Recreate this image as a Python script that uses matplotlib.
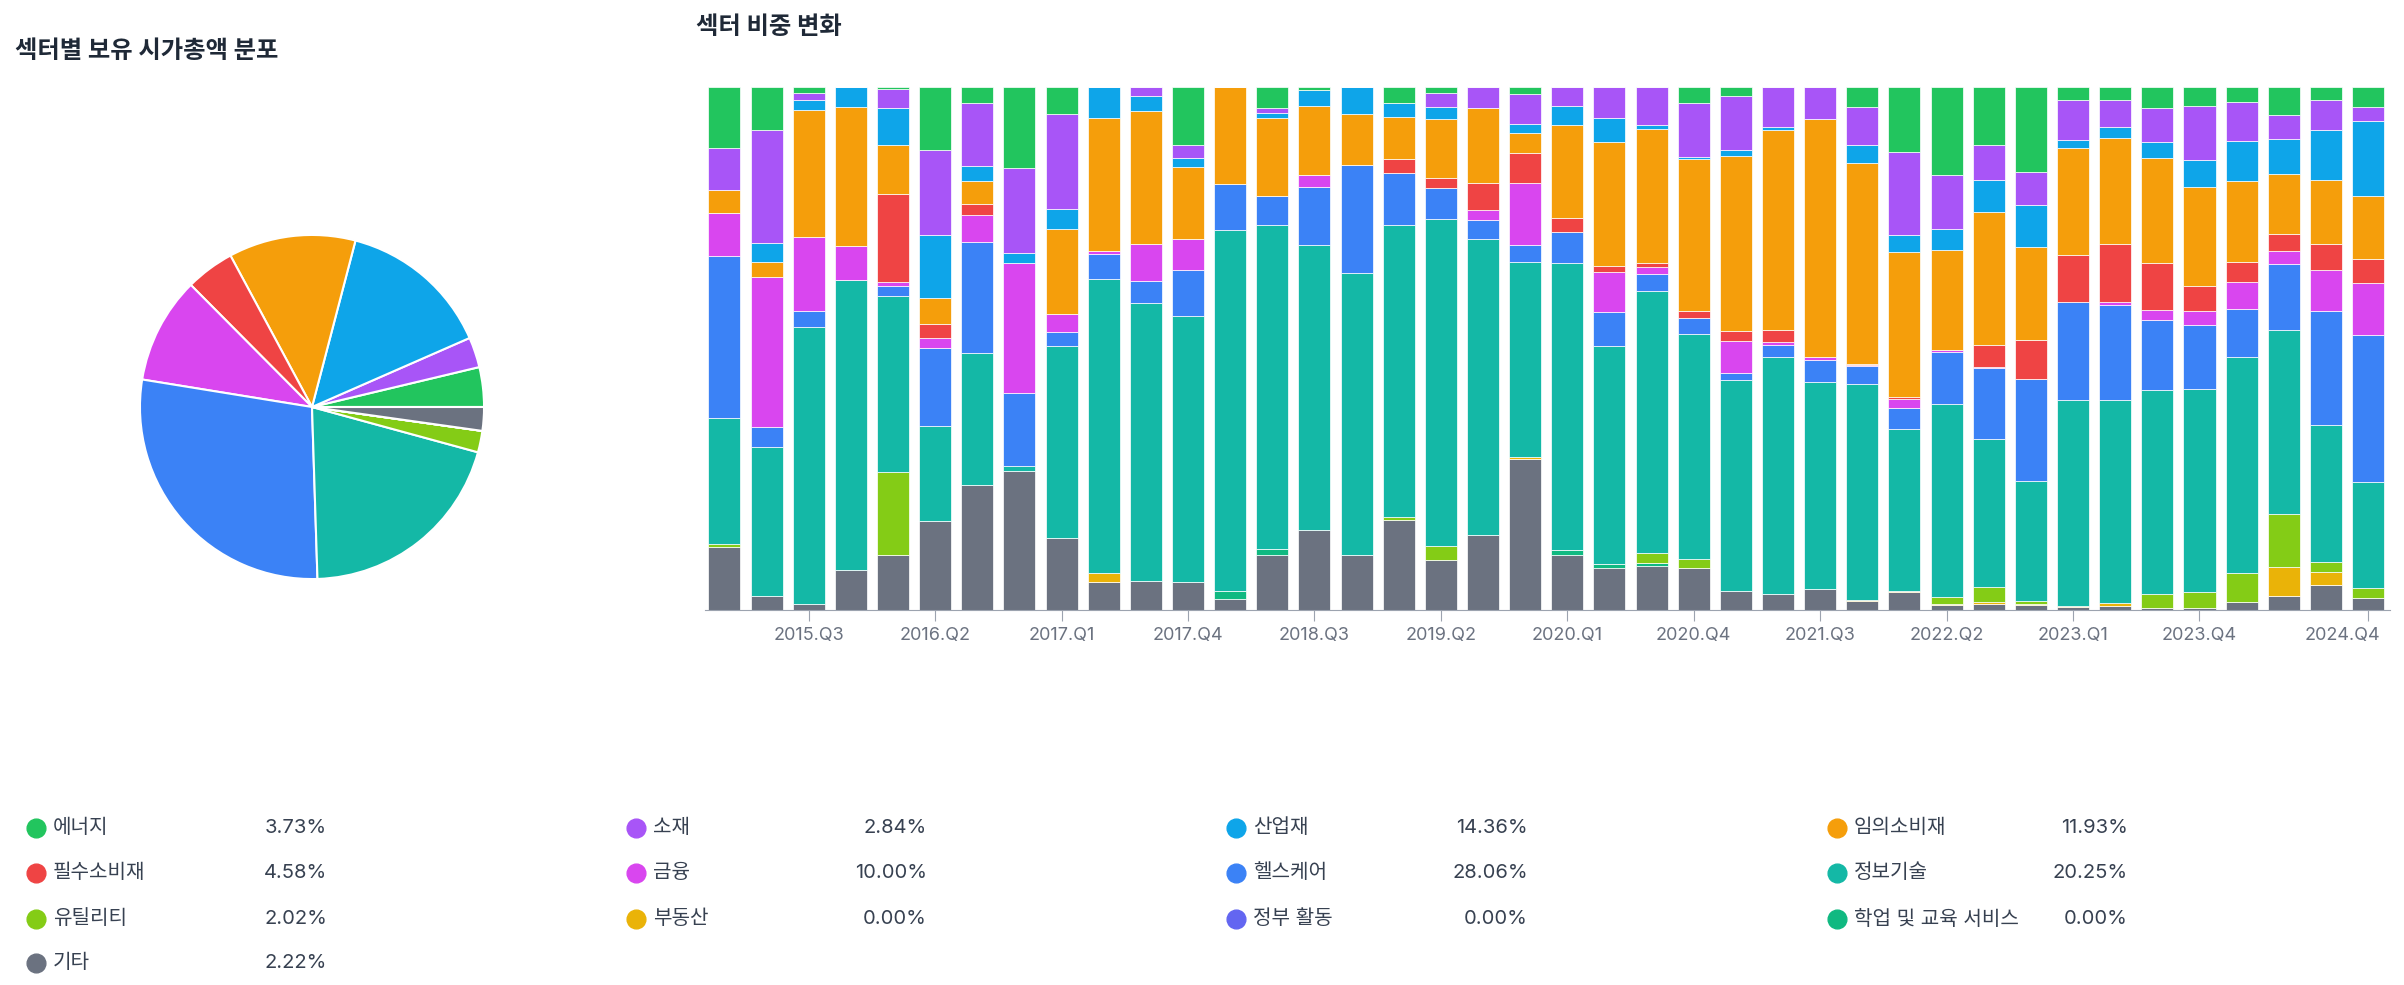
import numpy as np
import matplotlib
matplotlib.use('Agg')
import matplotlib.pyplot as plt
from matplotlib.transforms import ScaledTranslation

plt.rcParams['font.family'] = ['Inter', 'Noto Sans CJK KR', 'DejaVu Sans']

# sectors in legend order (= stack order, top to bottom)
sectors = ['에너지', '소재', '산업재', '임의소비재',
           '필수소비재', '금융', '헬스케어', '정보기술',
           '유틸리티', '부동산', '정부 활동', '학업 및 교육 서비스',
           '기타']
colors = ['#22c55e', '#a855f7', '#0ea5e9', '#f59e0b',
          '#ef4444', '#d946ef', '#3b82f6', '#14b8a6',
          '#84cc16', '#eab308', '#6366f1', '#10b981',
          '#6b7280']
share = [3.73, 2.84, 14.36, 11.93, 4.58, 10.00, 28.06, 20.25, 2.02, 0.00, 0.00, 0.00, 2.22]

quarters = [f'{y}.Q{q}' for y in range(2015, 2025) for q in range(1, 5)]

# sector weight per quarter (%), 2015.Q1 .. 2024.Q4
energy = [11.6, 8.2, 1.2, 0, 0.3, 12.0, 3.1, 15.4, 5.2, 0,
          0, 11.1, 0, 4.1, 0.5, 0, 3.1, 1.1, 0, 1.4,
          0, 0, 0, 3.1, 1.7, 0, 0, 3.8, 12.4, 16.8,
          11.1, 16.3, 2.5, 2.4, 4.1, 3.7, 2.9, 5.4, 2.5, 3.73]
materials = [8.0, 21.6, 1.2, 0, 3.7, 16.4, 12.0, 16.3, 18.1, 0,
             1.8, 2.5, 0, 0.8, 0, 0, 0, 2.7, 4.1, 5.7,
             3.6, 5.9, 7.3, 10.3, 10.3, 7.6, 6.1, 7.3, 15.8, 10.3,
             6.7, 6.2, 7.6, 5.3, 6.4, 10.2, 7.4, 4.5, 5.7, 2.84]
industrials = [0, 3.6, 2.0, 3.8, 7.0, 12.0, 2.9, 2.0, 3.8, 5.9,
               2.7, 1.7, 0, 1.0, 3.1, 5.2, 2.6, 2.4, 0, 1.6,
               3.7, 4.6, 0.7, 0.3, 1.2, 0.7, 0, 3.5, 3.4, 4.1,
               6.1, 8.2, 1.6, 2.0, 3.0, 5.3, 7.6, 6.7, 9.5, 14.36]
discretionary = [4.4, 3.0, 24.4, 26.7, 9.4, 5.0, 4.4, 0, 16.3, 25.4,
                 25.5, 13.8, 18.6, 15.0, 13.3, 9.7, 8.0, 11.2, 14.3, 4.0,
                 17.8, 23.8, 25.6, 29.2, 33.4, 38.1, 45.5, 38.3, 27.7, 19.0,
                 25.4, 17.8, 20.4, 20.3, 20.1, 18.8, 15.5, 11.5, 12.4, 11.93]
staples = [0, 0, 0, 0, 16.9, 2.7, 2.0, 0, 0, 0,
           0, 0, 0, 0, 0, 0, 2.7, 2.0, 5.1, 5.7,
           2.7, 1.0, 0.7, 1.4, 2.0, 2.4, 0, 0.3, 0.3, 0,
           4.2, 7.4, 8.9, 11.1, 9.0, 4.9, 3.9, 3.2, 4.8, 4.58]
financials = [8.3, 28.6, 14.0, 6.5, 0.7, 1.8, 5.2, 24.8, 3.4, 0.6,
              7.0, 5.8, 0, 0, 2.3, 0, 0, 0, 1.9, 11.8,
              0, 7.8, 1.4, 0, 6.1, 0.5, 0.7, 0.2, 1.8, 0.4,
              0.2, 0, 0, 0.5, 1.9, 2.6, 5.1, 2.6, 8.0, 10.0]
healthcare = [30.9, 3.9, 3.2, 0, 2.0, 15.0, 21.2, 13.8, 2.7, 4.9,
              4.2, 8.8, 8.7, 5.5, 11.0, 20.7, 9.9, 5.9, 3.6, 3.3,
              5.8, 6.5, 3.3, 2.9, 1.3, 2.2, 4.2, 3.4, 4.0, 10.0,
              13.7, 19.5, 18.8, 18.2, 13.3, 12.2, 9.1, 12.7, 21.7, 28.06]
info_tech = [24.1, 28.4, 52.9, 55.5, 33.5, 18.2, 25.2, 1.0, 36.9, 56.1,
             53.1, 50.8, 69.2, 61.9, 54.6, 53.7, 55.9, 62.7, 56.5, 37.3,
             55.0, 41.7, 50.1, 43.2, 40.2, 45.3, 39.5, 41.3, 30.9, 36.9,
             28.3, 22.9, 39.3, 38.9, 39.1, 38.8, 41.4, 35.2, 26.2, 20.25]
utilities = [0.6, 0, 0, 0, 15.9, 0, 0, 0, 0, 0,
             0, 0, 0, 0, 0, 0, 0.5, 2.7, 0, 0,
             0, 0, 1.8, 1.6, 0, 0, 0, 0, 0, 1.4,
             2.9, 0.6, 0, 0, 2.7, 3.1, 5.5, 10.1, 1.9, 2.02]
real_estate = [0, 0, 0, 0, 0, 0, 0, 0, 0, 1.7,
               0, 0, 0, 0, 0, 0, 0, 0, 0, 0.3,
               0, 0, 0, 0, 0, 0, 0, 0.2, 0.1, 0.1,
               0.3, 0.2, 0.2, 0.6, 0, 0, 0, 5.5, 2.6, 0]
government = [0] * 40
education = [0, 0, 0, 0, 0, 0, 0, 0, 0, 0,
             0, 0, 1.4, 1.2, 0, 0, 0, 0, 0, 0,
             1.0, 0.6, 0.6, 0, 0, 0, 0, 0, 0, 0,
             0, 0, 0, 0, 0, 0, 0, 0, 0, 0]
other = [12.1, 2.7, 1.2, 7.6, 10.5, 17.0, 23.9, 26.6, 13.7, 5.4,
         5.6, 5.4, 2.2, 10.5, 15.3, 10.6, 17.3, 9.5, 14.4, 28.9,
         10.5, 8.1, 8.4, 8.1, 3.7, 3.1, 4.1, 1.7, 3.5, 1.0,
         1.2, 1.0, 0.6, 0.7, 0.3, 0.4, 1.5, 2.7, 4.7, 2.22]

series = [energy, materials, industrials, discretionary, staples, financials,
          healthcare, info_tech, utilities, real_estate, government, education, other]

W, H = 2404, 985
fig = plt.figure(figsize=(W / 100, H / 100), dpi=100)

# ---- pie ----
ax_pie = fig.add_axes([(312 - 176) / W, (H - 407 - 176) / H, 352 / W, 352 / H])
ax_pie.pie(share, colors=colors, startangle=0, counterclock=True,
           wedgeprops=dict(edgecolor='white', linewidth=1.5))
ax_pie.set_xlim(-1.023, 1.023)
ax_pie.set_ylim(-1.023, 1.023)
ax_pie.set_aspect('equal')

# ---- stacked bars ----
ax = fig.add_axes([705 / W, (H - 610) / H, 1685 / W, 523 / H])
x = np.arange(len(quarters))
data = np.array(series, dtype=float)
data = data / data.sum(axis=0) * 100
bottom = np.zeros(len(quarters))
for i in reversed(range(len(sectors))):
    ax.bar(x, data[i], 0.76, bottom=bottom, color=colors[i],
           edgecolor='white', linewidth=0.5)
    bottom += data[i]
ax.set_xlim(-0.46, 39.52)
ax.set_ylim(0, 100)
ticks = list(range(2, 38, 3)) + [39]
ax.set_xticks(ticks)
ax.set_xticklabels([quarters[i] for i in ticks])
ax.set_yticks([])
for s in ['top', 'right', 'left']:
    ax.spines[s].set_visible(False)
ax.spines['bottom'].set_color('#9ca3af')
ax.tick_params(axis='x', colors='#9ca3af', labelcolor='#6b7280',
               labelsize=13, length=8, pad=4)
# last label is pushed back inside the chart edge
last = ax.get_xticklabels()[-1]
last.set_transform(last.get_transform() + ScaledTranslation(-0.26, 0, fig.dpi_scale_trans))

# ---- titles ----
fig.text(15 / W, 1 - 51 / H, '섹터별 보유 시가총액 분포', fontsize=17.5,
         fontweight='bold', color='#1f2937', va='center')
fig.text(696 / W, 1 - 28 / H, '섹터 비중 변화', fontsize=17.5,
         fontweight='bold', color='#1f2937', va='center')

# ---- legend ----
ov = fig.add_axes([0, 0, 1, 1])
ov.set_xlim(0, W)
ov.set_ylim(H, 0)
ov.axis('off')
dot_x = [36, 636, 1236, 1837]
pct_x = [327, 927, 1528, 2128]
row_y = [828, 873, 919, 963]
for k, name in enumerate(sectors):
    r, c = divmod(k, 4)
    ov.plot(dot_x[c], row_y[r], 'o', ms=13.5, color=colors[k])
    ov.text(dot_x[c] + 17, row_y[r], name, fontsize=14.5, color='#374151',
            va='center', ha='left')
    ov.text(pct_x[c], row_y[r], f'{share[k]:.2f}%', fontsize=14.5,
            color='#374151', va='center', ha='right')

fig.savefig('out.png', dpi=100)
